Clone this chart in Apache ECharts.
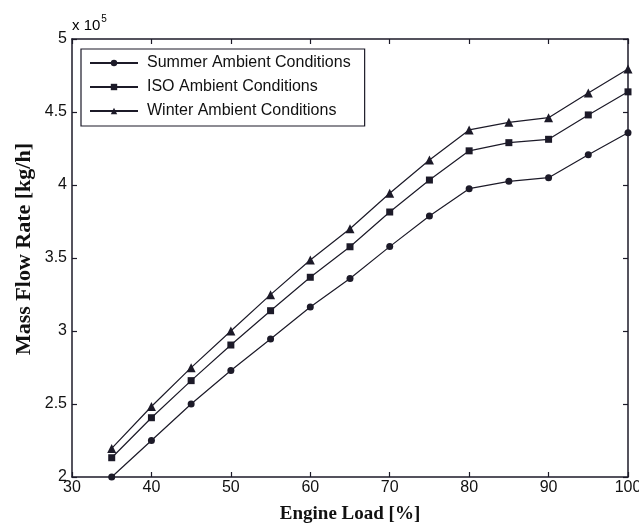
<!DOCTYPE html>
<html><head><meta charset="utf-8">
<script src="https://cdn.jsdelivr.net/npm/echarts@6/dist/echarts.min.js"></script>
<style>html,body{margin:0;padding:0;background:#fff}#c{width:639px;height:529px}</style>
</head><body><div id="c"></div>
<script>
const engineLoad = [35, 40, 45, 50, 55, 60, 65, 70, 75, 80, 85, 90, 95, 100];
const summer = [2.00, 2.25, 2.50, 2.73, 2.945, 3.165, 3.36, 3.578, 3.788, 3.975, 4.025, 4.05, 4.207, 4.358];
const iso = [2.132, 2.406, 2.66, 2.904, 3.139, 3.368, 3.577, 3.815, 4.034, 4.234, 4.29, 4.313, 4.48, 4.638];
const winter = [2.196, 2.483, 2.749, 3.0, 3.249, 3.486, 3.70, 3.943, 4.171, 4.377, 4.429, 4.461, 4.63, 4.795];
const seriesNames = ['Summer Ambient Conditions', 'ISO Ambient Conditions', 'Winter Ambient Conditions'];
const xTitle = 'Engine Load [%]';
const yTitle = 'Mass Flow Rate [kg/h]';

const ink = '#1c1a28';
const chart = echarts.init(document.getElementById('c'));
const pair = arr => engineLoad.map((x, i) => [x, arr[i]]);
const mk = (name, data, symbol, size) => ({
  name, type: 'line', data: pair(data), symbol, symbolSize: size,
  lineStyle: { color: ink, width: 1.2 }, itemStyle: { color: ink },
  emphasis: { disabled: true }, animation: false, z: 3
});
const axisLine = { show: true, lineStyle: { color: ink, width: 1.5 } };
const axisTick = { show: true, inside: true, length: 5, lineStyle: { color: ink, width: 1.2 } };
const tickFont = { fontFamily: 'Liberation Sans', fontSize: 16, color: '#111' };
chart.setOption({
  animation: false,
  grid: { left: 72, right: 11, top: 39, bottom: 52, show: false, containLabel: false, outerBoundsMode: 'none' },
  legend: {
    orient: 'vertical', left: 81, top: 49, padding: [6, 14, 7, 8],
    borderColor: ink, borderWidth: 1.2, backgroundColor: '#fff',
    itemWidth: 48, itemHeight: 8, itemGap: 8,
    textStyle: { fontFamily: 'Liberation Sans', fontSize: 16, lineHeight: 16, color: '#111', padding: [0, 0, 0, 4] },
    data: seriesNames
  },
  xAxis: [
    { type: 'value', min: 30, max: 100, interval: 10, position: 'bottom',
      name: xTitle, nameLocation: 'middle', nameGap: 28,
      nameTextStyle: { fontFamily: 'Liberation Serif', fontWeight: 'bold', fontSize: 19, color: '#111' },
      axisLine, axisTick, splitLine: { show: false },
      axisLabel: Object.assign({ margin: 3 }, tickFont) },
    { type: 'value', min: 30, max: 100, interval: 10, position: 'top',
      axisLine, axisTick, splitLine: { show: false }, axisLabel: { show: false } }
  ],
  yAxis: [
    { type: 'value', min: 2, max: 5, interval: 0.5, position: 'left',
      axisLine, axisTick, splitLine: { show: false },
      axisLabel: Object.assign({ margin: 5 }, tickFont) },
    { type: 'value', min: 2, max: 5, interval: 0.5, position: 'right',
      axisLine, axisTick, splitLine: { show: false }, axisLabel: { show: false } }
  ],
  graphic: [{
    type: 'text', left: 72, top: 14,
    style: {
      text: '{a|x 10}{s|5}',
      rich: {
        a: { fontFamily: 'Liberation Sans', fontSize: 15, color: '#111', verticalAlign: 'bottom' },
        s: { fontFamily: 'Liberation Sans', fontSize: 10, color: '#111', verticalAlign: 'top', padding: [0, 0, 9, 1] }
      }
    }
  }, {
    type: 'text', x: 24, y: 249, rotation: Math.PI / 2,
    style: {
      text: yTitle, align: 'center', verticalAlign: 'middle',
      fontFamily: 'Liberation Serif', fontWeight: 'bold', fontSize: 22, fill: '#111'
    }
  }],
  series: [
    mk(seriesNames[0], summer, 'circle', 7),
    mk(seriesNames[1], iso, 'rect', 7),
    mk(seriesNames[2], winter, 'triangle', 9)
  ]
});
</script></body></html>
